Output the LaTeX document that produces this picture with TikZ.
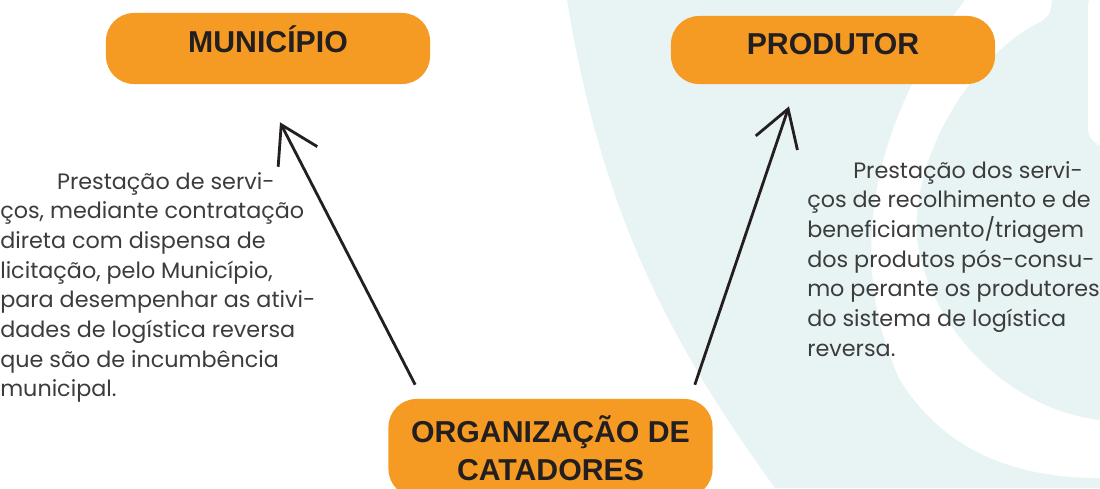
\documentclass[tikz,border=0pt]{standalone}
\usepackage{fontspec}
\setmainfont{Poppins}
\newfontfamily\boxfont{Liberation Sans}
\usetikzlibrary{arrows.meta}
\usetikzlibrary{positioning}
\definecolor{boxorange}{HTML}{F59A23}
\definecolor{bgteal}{HTML}{E8F4F4}
\definecolor{inkdark}{HTML}{231F20}
\definecolor{textgrey}{HTML}{3C3C3C}
\tikzset{
    actor/.style = {shape=rectangle,rounded corners=0.7cm,fill=boxorange,text=inkdark,
        font=\boxfont\bfseries\fontsize{21.5}{27}\selectfont,align=center,minimum width=8.1cm},
    oneline/.style = {text height=0.42cm,text depth=0.22cm},
    service/.style = {align=left,inner sep=0,anchor=north west,text=textgrey,
        font=\fontsize{15.85}{21.1}\selectfont},
    flow/.style = {draw=inkdark,line width=2pt,-{Straight Barb[length=0.9cm,width=1.1cm]}}
}

\begin{document}
\begin{tikzpicture}[x=0.025cm,y=-0.025cm]
    % Frame
    \useasboundingbox (0,0) rectangle (1100,488);
    \clip (0,0) rectangle (1100,488);
    % Backdrop
    \fill[bgteal] (567,0) .. controls (600,200) and (660,330) .. (775,488)
        -- (1100,488) -- (1100,0) -- cycle;
    \fill[white] (965,0) .. controls (880,110) and (840,250) .. (900,380)
        .. controls (950,460) and (1030,478) .. (1100,478)
        -- (1100,420) .. controls (1010,410) and (930,330) .. (917,240)
        .. controls (910,150) and (980,50) .. (1040,22)
        .. controls (1050,15) .. (1052,0) -- cycle;
    \fill[white,rounded corners=0.4cm] (1088,-10) -- (1088,145) -- (1110,145) -- (1110,-10) -- cycle;
    % Actors
    \node[actor,oneline,minimum height=1.775cm] (mun) at (268,48.5) {MUNICÍPIO};
    \node[actor,oneline,minimum height=1.7cm] (prod) at (833,50) {PRODUTOR};
    \node[actor,minimum height=2.45cm] (cat) at (550.5,448) {ORGANIZAÇÃO DE\\CATADORES};
    % Services
    \node[service] (munserv) at (0,172) {\hspace*{1.42cm}Prestação de servi-\\
        ços, mediante contratação\\
        direta com dispensa de\\
        licitação, pelo Município,\\
        para desempenhar as ativi-\\
        dades de logística reversa\\
        que são de incumbência\\
        municipal.};
    \node[service] (prodserv) at (807,161) {\hspace*{1.15cm}Prestação dos servi-\\
        ços de recolhimento e de\\
        beneficiamento/triagem\\
        dos produtos pós-consu-\\
        mo perante os produtores\\
        do sistema de logística\\
        reversa.};
    % Relations
    \draw[flow] ([shift={(27,-14)}]cat.north west) to ([shift={(12,38)}]mun.south);
    \draw[flow] ([shift={(-18,-14)}]cat.north east) to ([shift={(-44,22)}]prod.south);
\end{tikzpicture}
\end{document}
